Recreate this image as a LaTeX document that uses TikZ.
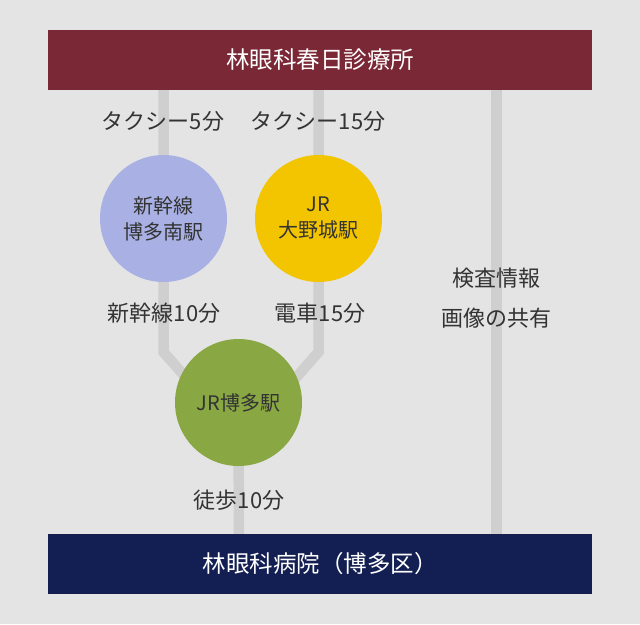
\documentclass[tikz,border=0pt]{standalone}
\usepackage{fontspec}
\setmainfont{Noto Sans CJK JP}
\definecolor{bgc}{HTML}{E4E4E4}
\definecolor{linec}{HTML}{CFCFCF}
\definecolor{topc}{HTML}{7A2835}
\definecolor{botc}{HTML}{131F52}
\definecolor{purc}{HTML}{A9B1E4}
\definecolor{yelc}{HTML}{F2C500}
\definecolor{grnc}{HTML}{89A743}
\definecolor{txtc}{HTML}{333333}
\begin{document}
\begin{tikzpicture}[x=1pt,y=-1pt,
  route/.style={draw=linec,line width=10.5pt},
  bar/.style={minimum width=544pt,minimum height=60pt,inner sep=0pt,text=white,font=\fontsize{23.5}{26}\selectfont},
  station/.style={circle,minimum size=127pt,inner sep=0pt,text=txtc,align=center,font=\fontsize{20}{26}\selectfont},
  lbl/.style={text=txtc,inner sep=0pt,align=center,font=\fontsize{22}{40}\selectfont}]
\fill[bgc] (0,0) rectangle (640,624);
\useasboundingbox (0,0) rectangle (640,624);
\coordinate (l1) at (163.5,60);
\coordinate (l2) at (163.5,352);
\coordinate (l3) at (205.5,400);
\coordinate (r1) at (318.5,60);
\coordinate (r2) at (318.5,352);
\coordinate (r3) at (276.5,400);
\coordinate (x1) at (496.5,60);
\coordinate (x2) at (496.5,564);
\coordinate (h2) at (239,564);
\coordinate (sc) at (163.5,218.5);
\coordinate (oc) at (318.5,218.5);
\coordinate (hc) at (238.5,402.5);
% routes
\draw[route] (l1) -- (l2) -- (l3);
\draw[route] (r1) -- (r2) -- (r3);
\draw[route] (x1) -- (x2);
\draw[route] (hc) -- (h2);
% stations
\node[station,fill=purc] (shin) at (sc) {新幹線\\博多南駅};
\node[station,fill=yelc] (ono) at (oc) {JR\\大野城駅};
\node[station,fill=grnc] (hak) at (hc) {JR博多駅};
% bars
\node[bar,fill=topc] (top) at (320,60) {林眼科春日診療所};
\node[bar,fill=botc] (bot) at (320,564) {林眼科病院（博多区）};
% labels
\node[lbl] (t1) at (163,121) {タクシー5分};
\node[lbl] (t2) at (318,121) {タクシー15分};
\node[lbl] (t3) at (164,313) {新幹線10分};
\node[lbl] (t4) at (320,313) {電車15分};
\node[lbl] (t5) at (239,500) {徒歩10分};
\node[lbl] (t6) at (496,298) {検査情報\\画像の共有};
\end{tikzpicture}
\end{document}
